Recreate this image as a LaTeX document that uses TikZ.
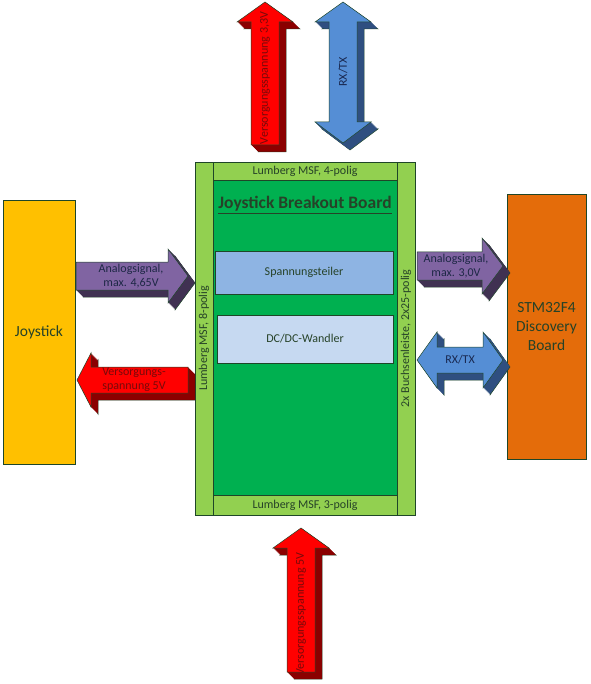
\documentclass[tikz,border=0pt]{standalone}
\usepackage{fontspec}
\setmainfont{Carlito}

% Colours
\definecolor{edge}{RGB}{30,70,40}
\definecolor{txtdark}{RGB}{38,66,40}
\definecolor{joyfill}{HTML}{FFC000}
\definecolor{stmfill}{HTML}{E46C0A}
\definecolor{lightgreen}{HTML}{92D050}
\definecolor{darkgreen}{HTML}{00B050}
\definecolor{spfill}{HTML}{8EB4E3}
\definecolor{dcfill}{HTML}{C6D9F1}
\definecolor{purp}{HTML}{8064A2}
\definecolor{purpdark}{HTML}{403152}
\definecolor{purptext}{RGB}{30,40,70}
\definecolor{pwr}{HTML}{FF0000}
\definecolor{pwrdark}{HTML}{8B0000}
\definecolor{pwrtext}{RGB}{120,10,10}
\definecolor{sig}{HTML}{558ED5}
\definecolor{sigdark}{HTML}{2F4F80}
\definecolor{sigtext}{RGB}{25,40,80}

% 3D block arrow: #1 face colour, #2 side colour, #3 outline
\newcommand{\blockarrow}[3]{%
  \filldraw[#2, draw=edge, line width=0.5pt, shift={(7,7)}] #3 -- cycle;
  \foreach \d in {6.5,6,...,0.5}{\fill[#2, shift={(\d,\d)}] #3 -- cycle;}
  \filldraw[#1, draw=edge, line width=0.5pt] #3 -- cycle;
}

\begin{document}
\begin{tikzpicture}[
    x=1pt, y=-1pt,
    % Styles
    box/.style={
        rectangle,
        draw=edge,
        fill=#1,
        line width=0.8pt,
        inner sep=0pt,
        align=center,
        text=txtdark
    },
    box/.default=white,
    lbl/.style={
        font=\fontsize{12}{14}\selectfont,
        align=center
    },
    big/.style={
        font=\fontsize{15.5}{19}\selectfont,
        align=center,
        text=txtdark
    }
]

\useasboundingbox (0,0) rectangle (590,684);

% Outer devices
\node[box=joyfill, big, minimum width=72, minimum height=264] (joystick) at (39,332) {Joystick};
\node[box=stmfill, big, minimum width=79, minimum height=265] (stm) at (546.5,326.5) {STM32F4\\Discovery\\Board};

% Breakout board
\node[box=lightgreen, minimum width=18, minimum height=353] (leftstrip) at (204,338.5) {};
\node[box=lightgreen, minimum width=18, minimum height=353] (rightstrip) at (406,338.5) {};
\node[box=lightgreen, minimum width=184, minimum height=18] (topstrip) at (305,171) {};
\node[box=lightgreen, minimum width=184, minimum height=20] (botstrip) at (305,505) {};
\node[box=darkgreen, minimum width=184, minimum height=315] (core) at (305,337.5) {};

\node[lbl, text=txtdark] (toplbl) at (topstrip) {Lumberg MSF, 4-polig};
\node[lbl, text=txtdark] (botlbl) at (botstrip) {Lumberg MSF, 3-polig};
\node[lbl, text=txtdark, rotate=90] (leftlbl) at (leftstrip) {Lumberg MSF, 8-polig};
\node[lbl, text=txtdark, rotate=90] (rightlbl) at (rightstrip) {2x Buchsenleiste, 2x25-polig};

\node[font=\fontsize{17.5}{20}\bfseries, text=txtdark] (title) at (305,205) {\underline{Joystick Breakout Board}};

\node[box=spfill, lbl, minimum width=178, minimum height=43] (divider) at (304,272.5) {Spannungsteiler};
\node[box=dcfill, lbl, minimum width=176, minimum height=48] (dcdc) at (305,339) {DC/DC-Wandler};

% Arrows - top
\blockarrow{pwr}{pwrdark}{(251,145) -- (251,22) -- (237,22) -- (265,2) -- (293,22) -- (279,22) -- (279,145)}
\node[lbl, text=pwrtext, rotate=90] (pwrtop) at (265,78) {Versorgungsspannung 3,3V};

\blockarrow{sig}{sigdark}{(343,2) -- (371,22) -- (357,22) -- (357,122) -- (371,122) -- (343,143) -- (315,122) -- (329,122) -- (329,22) -- (315,22)}
\node[lbl, text=sigtext, rotate=90] (rxtop) at (343,72) {RX/TX};

% Arrows - joystick side
\blockarrow{purp}{purpdark}{(76,262) -- (168,262) -- (168,249) -- (188,276) -- (168,303) -- (168,290) -- (76,290)}
\node[lbl, text=purptext] (anajoy) at (131,276) {Analogsignal,\\max. 4,65V};

\blockarrow{pwr}{pwrdark}{(188,367) -- (91,367) -- (91,353) -- (77,380) -- (91,407) -- (91,393) -- (188,393)}
\node[lbl, text=pwrtext] (pwrjoy) at (134,380) {Versorgungs-\\spannung 5V};

% Arrows - STM side
\blockarrow{purp}{purpdark}{(417,252) -- (482,252) -- (482,238) -- (503,266) -- (482,294) -- (482,280) -- (417,280)}
\node[lbl, text=purptext] (anastm) at (456,266) {Analogsignal,\\max. 3,0V};

\blockarrow{sig}{sigdark}{(417,360) -- (437,332) -- (437,347) -- (483,347) -- (483,332) -- (503,360) -- (483,388) -- (483,373) -- (437,373) -- (437,388)}
\node[lbl, text=sigtext] (rxstm) at (460,360) {RX/TX};

% Arrow - bottom
\blockarrow{pwr}{pwrdark}{(301,528) -- (329,548) -- (315,548) -- (315,672) -- (287,672) -- (287,548) -- (273,548)}
\node[lbl, text=pwrtext, rotate=90] (pwrbot) at (301,614) {Versorgungsspannung 5V};

\end{tikzpicture}
\end{document}
